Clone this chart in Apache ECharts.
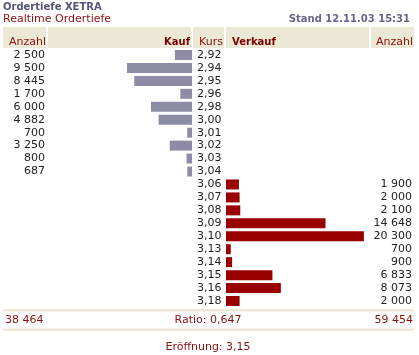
<!DOCTYPE html>
<html><head><meta charset="utf-8">
<script src="https://cdn.jsdelivr.net/npm/echarts@6/dist/echarts.min.js"></script>
<style>html,body{margin:0;padding:0;background:#fff}#c{width:419px;height:355px}</style>
</head><body><div id="c"></div>
<script>
const kurs = ['2,92','2,94','2,95','2,96','2,98','3,00','3,01','3,02','3,03','3,04','3,06','3,07','3,08','3,09','3,10','3,13','3,14','3,15','3,16','3,18'];
const kauf = [2500,9500,8445,1700,6000,4882,700,3250,800,687,null,null,null,null,null,null,null,null,null,null];
const verkauf = [null,null,null,null,null,null,null,null,null,null,1900,2000,2100,14648,20300,700,900,6833,8073,2000];
const titleText = 'Ordertiefe XETRA';
const subtitleText = 'Realtime Ordertiefe';
const standText = 'Stand 12.11.03 15:31';
const ratioText = 'Ratio: 0,647';
const openText = 'Eröffnung: 3,15';

function fmt(n){ if(n==null) return ''; return String(n).replace(/\B(?=(\d{3})+(?!\d))/g,' '); }
const sumK = kauf.reduce((a,b)=>a+(b||0),0);
const sumV = verkauf.reduce((a,b)=>a+(b||0),0);

const F = 'DejaVu Sans';
const red = '#8b1010';
const beige = '#ebe8d6';
const chart = echarts.init(document.getElementById('c'), null, {renderer:'canvas'});
const axisMax = 21200;
const gridTop = 48.5, gridH = 259;
const boldFont = 'bold 10px "'+F+'"';

function txt(text, x, y, opts){
  return {type:'text', silent:true, z:10, style:Object.assign({text, x, y, font:'11px "'+F+'"', fill:'#222', textAlign:'left', textVerticalAlign:'middle'}, opts||{})};
}

chart.setOption({
  animation:false,
  grid:[
    {left:47, width:145, top:gridTop, height:gridH},
    {left:226, width:144, top:gridTop, height:gridH}
  ],
  xAxis:[
    {gridIndex:0, type:'value', min:0, max:axisMax, inverse:true, show:false},
    {gridIndex:1, type:'value', min:0, max:axisMax, show:false}
  ],
  yAxis:[
    {gridIndex:0, type:'category', data:kurs, inverse:true, position:'right',
     axisLine:{show:false}, axisTick:{show:false},
     axisLabel:{margin:5, align:'left', fontFamily:F, fontSize:11, color:'#222', interval:0}},
    {gridIndex:0, type:'category', data:kauf.map(fmt), inverse:true, position:'left',
     axisLine:{show:false}, axisTick:{show:false},
     axisLabel:{margin:2, fontFamily:F, fontSize:11, color:'#222', interval:0}},
    {gridIndex:1, type:'category', data:verkauf.map(fmt), inverse:true, position:'right',
     axisLine:{show:false}, axisTick:{show:false},
     axisLabel:{margin:42, align:'right', fontFamily:F, fontSize:11, color:'#222', interval:0}}
  ],
  series:[
    {type:'bar', xAxisIndex:0, yAxisIndex:0, data:kauf, barWidth:10, itemStyle:{color:'#8c8ca6'}},
    {type:'bar', xAxisIndex:1, yAxisIndex:2, data:verkauf, barWidth:10, itemStyle:{color:'#990000'}}
  ],
  graphic:[
    txt(titleText, 3, 7, {font:boldFont, fill:'#55557a'}),
    txt(subtitleText, 3, 19, {fill:red}),
    txt(standText, 410, 19, {font:boldFont, fill:'#66668a', textAlign:'right'}),
    {type:'rect', silent:true, z:1, shape:{x:3, y:27, width:411, height:21}, style:{fill:beige}},
    {type:'rect', silent:true, z:2, shape:{x:46, y:27, width:2, height:21}, style:{fill:'#fff'}},
    {type:'rect', silent:true, z:2, shape:{x:191, y:27, width:2, height:21}, style:{fill:'#fff'}},
    {type:'rect', silent:true, z:2, shape:{x:224, y:27, width:2, height:21}, style:{fill:'#fff'}},
    {type:'rect', silent:true, z:2, shape:{x:369, y:27, width:2, height:21}, style:{fill:'#fff'}},
    txt('Anzahl', 9, 42, {fill:red}),
    txt('Kauf', 190, 42, {font:boldFont, fill:'#7a0000', textAlign:'right'}),
    txt('Kurs', 199, 42, {fill:red}),
    txt('Verkauf', 232, 42, {font:boldFont, fill:'#7a0000'}),
    txt('Anzahl', 413, 42, {fill:red, textAlign:'right'}),
    {type:'rect', silent:true, z:1, shape:{x:3, y:309, width:411, height:2.5}, style:{fill:beige}},
    {type:'rect', silent:true, z:1, shape:{x:3, y:328.5, width:411, height:2.5}, style:{fill:beige}},
    txt(fmt(sumK), 5, 320, {fill:red}),
    txt(ratioText, 208, 320, {fill:red, textAlign:'center'}),
    txt(fmt(sumV), 413, 320, {fill:red, textAlign:'right'}),
    txt(openText, 208, 347, {fill:red, textAlign:'center'})
  ]
});
</script></body></html>
